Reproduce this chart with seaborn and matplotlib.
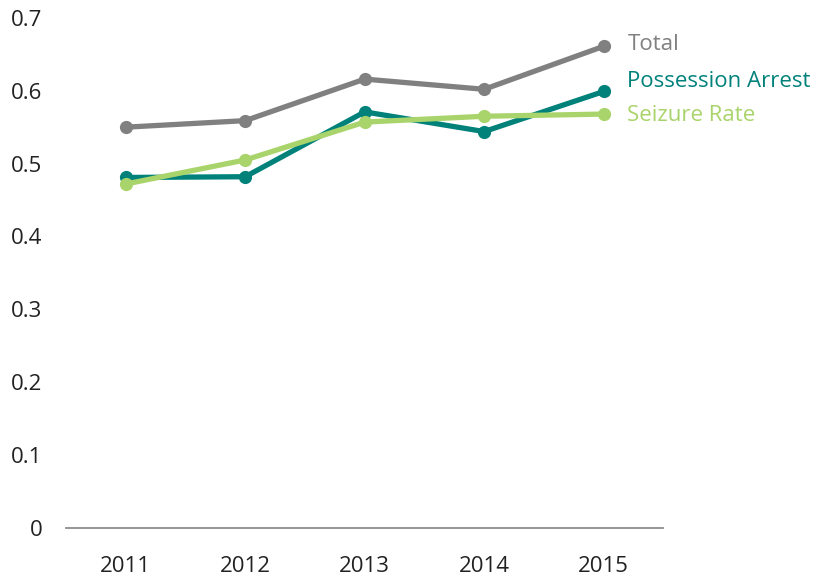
import numpy as np
import pandas as pd
import matplotlib
matplotlib.use('Agg')
import matplotlib.pyplot as plt
import seaborn as sns

years = ['2011', '2012', '2013', '2014', '2015']
total = [0.550, 0.559, 0.616, 0.602, 0.661]
possession = [0.481, 0.482, 0.571, 0.544, 0.599]
seizure = [0.472, 0.505, 0.557, 0.565, 0.568]

series_names = ['Total', 'Possession Arrest', 'Seizure Rate']
colors = ['#808080', '#00827B', '#A9D46B']
# label offsets (points) from the last point of each line
label_dy = [1, 7, -1]

df = pd.DataFrame({'year': years * 3,
                   'value': total + possession + seizure,
                   'series': [s for s in series_names for _ in years]})

sns.set_style('white')
plt.rcParams['font.family'] = ['Open Sans', 'DejaVu Sans']

fig = plt.figure(figsize=(8.15, 5.77), dpi=100)
ax = fig.add_axes([0.081, 0.085, 0.733, 0.884])

for name, col, dy in zip(series_names, colors, label_dy):
    sub = df[df['series'] == name]
    sns.lineplot(data=sub, x='year', y='value', color=col, linewidth=3.8,
                 marker='o', markersize=9.5, markeredgewidth=0, ax=ax,
                 sort=False)
    ax.annotate(name, xy=(len(years) - 1, sub['value'].iloc[-1]),
                xytext=(17, dy), textcoords='offset points',
                color=col, fontsize=16, va='center', ha='left',
                annotation_clip=False)

ax.set_xlim(-0.5, len(years) - 0.5)
ax.set_ylim(0, 0.7)
ax.set_yticks(np.arange(0, 0.71, 0.1))
ax.set_yticklabels(['0'] + ['%.1f' % v for v in np.arange(0.1, 0.71, 0.1)])
ax.set_xlabel('')
ax.set_ylabel('')
ax.tick_params(axis='both', length=0, labelsize=16, colors='#222222')
ax.tick_params(axis='x', pad=20)
ax.tick_params(axis='y', pad=17)
for s in ['top', 'right', 'left']:
    ax.spines[s].set_visible(False)
ax.spines['bottom'].set_color('#8c8c8c')
ax.spines['bottom'].set_linewidth(1.3)
ax.grid(False)

fig.savefig('out.png', dpi=100)
